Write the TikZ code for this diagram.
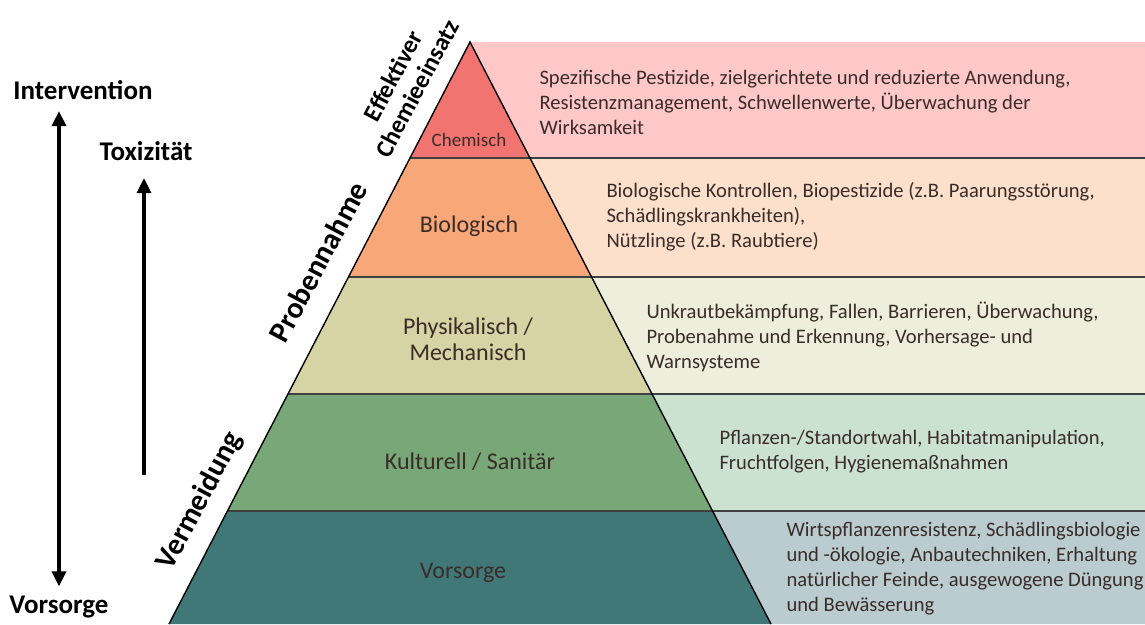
\documentclass[tikz,border=0pt]{standalone}
\usepackage{fontspec}
\setmainfont{Carlito}
\usetikzlibrary{arrows.meta}

\definecolor{chemF}{RGB}{242,116,112}
\definecolor{chemP}{RGB}{255,200,200}
\definecolor{bioF}{RGB}{248,168,120}
\definecolor{bioP}{RGB}{252,224,204}
\definecolor{physF}{RGB}{214,212,164}
\definecolor{physP}{RGB}{238,238,220}
\definecolor{kultF}{RGB}{120,168,120}
\definecolor{kultP}{RGB}{204,226,208}
\definecolor{vorsF}{RGB}{64,120,120}
\definecolor{vorsP}{RGB}{186,204,208}
\definecolor{ink}{RGB}{58,44,40}

\begin{document}
\begin{tikzpicture}[x=1pt, y=-1pt,
  >={Triangle[length=15pt, width=14pt]},
  level/.style={align=center, text=ink, font=\fontsize{24}{26}\selectfont},
  info/.style={anchor=west, align=left, text=ink, font=\fontsize{20.6}{25}\selectfont},
  side/.style={align=center, rotate=62, font=\fontsize{30}{30}\selectfont\bfseries},
  axis/.style={font=\fontsize{27}{27}\selectfont\bfseries}]
  \useasboundingbox (0,0) rectangle (1145,624);

  \fill[chemP] (470,42) -- (1145,42) -- (1145,158) -- (530,158) -- cycle;
  \fill[bioP] (530,158) -- (1145,158) -- (1145,277) -- (591.5,277) -- cycle;
  \fill[physP] (591.5,277) -- (1145,277) -- (1145,394) -- (652,394) -- cycle;
  \fill[kultP] (652,394) -- (1145,394) -- (1145,511) -- (712.5,511) -- cycle;
  \fill[vorsP] (712.5,511) -- (1145,511) -- (1145,624) -- (771,624) -- cycle;

  \fill[chemF] (470,42) -- (530,158) -- (410,158) -- cycle;
  \fill[bioF] (410,158) -- (530,158) -- (591.5,277) -- (348.5,277) -- cycle;
  \fill[physF] (348.5,277) -- (591.5,277) -- (652,394) -- (288,394) -- cycle;
  \fill[kultF] (288,394) -- (652,394) -- (712.5,511) -- (227.5,511) -- cycle;
  \fill[vorsF] (227.5,511) -- (712.5,511) -- (771,624) -- (169,624) -- cycle;

  \draw[black!75, line width=1.2pt] (410,158) -- (1145,158) (348.5,277) -- (1145,277)
    (288,394) -- (1145,394) (227.5,511) -- (1145,511);
  \draw[line width=1.4pt] (169,624) -- (470,42) -- (771,624);

  \node (chem) [level, font=\fontsize{19}{22}\selectfont] at (469,140) {Chemisch};
  \node (bio) [level] at (469,226) {Biologisch};
  \node (phys) [level] at (468,339) {Physikalisch /\\Mechanisch};
  \node (kult) [level] at (470,462) {Kulturell / Sanitär};
  \node (vors) [level] at (463,573) {Vorsorge};

  \node (chemT) [info] at (536,102) {Spezifische Pestizide, zielgerichtete und reduzierte Anwendung,\\Resistenzmanagement, Schwellenwerte, Überwachung der\\Wirksamkeit};
  \node (bioT) [info] at (603,217) {Biologische Kontrollen, Biopestizide (z.B. Paarungsstörung,\\Schädlingskrankheiten),\\Nützlinge (z.B. Raubtiere)};
  \node (physT) [info] at (643,337) {Unkrautbekämpfung, Fallen, Barrieren, Überwachung,\\Probenahme und Erkennung, Vorhersage- und\\Warnsysteme};
  \node (kultT) [info] at (716,452) {Pflanzen-/Standortwahl, Habitatmanipulation,\\Fruchtfolgen, Hygienemaßnahmen};
  \node (vorsT) [info] at (783,569) {Wirtspflanzenresistenz, Schädlingsbiologie\\und -ökologie, Anbautechniken, Erhaltung\\natürlicher Feinde, ausgewogene Düngung\\und Bewässerung};

  \node (eff) [side, font=\fontsize{25}{27}\selectfont\bfseries] at (405,82) {Effektiver\\Chemieeinsatz};
  \node (probe) [side] at (318,262) {Probennahme};
  \node (verm) [side] at (200,501) {Vermeidung};

  \node (int) [axis] at (83,90) {Intervention};
  \node (tox) [axis] at (146,151) {Toxizität};
  \node (vor) [axis] at (59,607) {Vorsorge};
  \coordinate (toxfuss) at (144,475);

  \draw[<->, line width=3.5pt, shorten <=6pt, shorten >=8pt] (vor.north) -- (vor.north |- int.south);
  \draw[->, line width=3.5pt, shorten >=14pt] (toxfuss) -- (toxfuss |- tox.south);
\end{tikzpicture}
\end{document}
